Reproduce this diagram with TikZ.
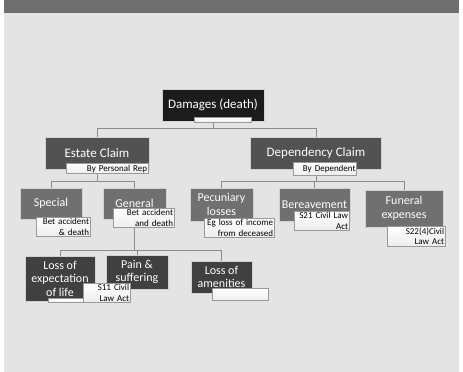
\documentclass[tikz,border=0pt]{standalone}
\usepackage{fontspec}
\setmainfont{Carlito}
\usetikzlibrary{positioning, backgrounds}
\definecolor{paper}{RGB}{228,228,228}
\definecolor{banner}{RGB}{111,111,111}
\definecolor{ink}{RGB}{28,28,28}
\definecolor{slate}{RGB}{82,82,82}
\definecolor{ash}{RGB}{112,112,112}
\definecolor{coal}{RGB}{64,64,64}
\definecolor{wire}{RGB}{140,140,140}
\def\rim{white!82!black}
\def\bigtxt{\fontsize{13}{15}\selectfont}
\def\midtxt{\fontsize{12}{13.5}\selectfont}
\tikzstyle{box} = [rectangle, draw=\rim, line width=0.8pt, text=white, align=center, inner sep=1pt]
\tikzstyle{rootbox} = [box, fill=ink, font=\bigtxt]
\tikzstyle{claimbox} = [box, fill=slate, font=\bigtxt]
\tikzstyle{headbox} = [box, fill=ash, font=\midtxt]
\tikzstyle{leafbox} = [box, fill=coal, font=\midtxt]
\tikzstyle{tagbox} = [rectangle, draw=black!40, line width=0.6pt, top color=white, bottom color=black!7, text=black, align=right, inner sep=1pt, font=\fontsize{9}{10.5}\selectfont]
\tikzstyle{blank} = [tagbox, inner sep=0pt]
\tikzstyle{link} = [draw=wire, line width=1pt]

\begin{document}
\begin{tikzpicture}[x=1pt, y=-1pt]

  \useasboundingbox (0,0) rectangle (463,372);

  % top of the tree
  \node (dmg) [rootbox, minimum width=102pt, minimum height=32pt] at (213,105) {Damages (death)};
  \node (dmgtag) [blank, minimum width=57pt, minimum height=5pt, below left=-4pt and 13pt of dmg.south east] {};

  % the two claims
  \node (estate) [claimbox, minimum width=104pt, minimum height=32pt] at (97,153) {Estate Claim};
  \node (estatetag) [tagbox, text width=80pt, minimum height=10pt, below left=-6pt and 1pt of estate.south east] {By Personal Rep};

  \node (dep) [claimbox, minimum width=131pt, minimum height=32pt] at (316,153.5) {Dependency Claim};
  \node (deptag) [tagbox, text width=61pt, minimum height=13pt, below left=-8pt and 25pt of dep.south east] {By Dependent};

  % estate side
  \node (special) [headbox, minimum width=62pt, minimum height=31pt] at (51,203.5) {Special};
  \node (specialtag) [tagbox, text width=52pt, below left=-2pt and -8pt of special.south east] {Bet accident\\\& death};

  \node (general) [headbox, minimum width=63pt, minimum height=31pt] at (134.5,203.5) {General};
  \node (generaltag) [tagbox, text width=59pt, below left=-11pt and -8pt of general.south east] {Bet accident\\and death};

  \node (lossexp) [leafbox, minimum width=70pt, minimum height=45pt] at (60,278.5) {Loss of\\expectation\\of life};
  \node (lossexptag) [blank, minimum width=37pt, minimum height=4pt, below left=-3pt and 10pt of lossexp.south east] {};

  \node (pain) [leafbox, minimum width=62pt, minimum height=34pt] at (137,272) {Pain \&\\suffering};
  \node (paintag) [tagbox, text width=45pt, below left=-6pt and 38pt of pain.south east] {S11 Civil\\Law Act};

  \node (amen) [leafbox, minimum width=61pt, minimum height=32pt] at (221.5,277) {Loss of\\amenities};
  \node (amentag) [blank, minimum width=56pt, minimum height=12pt, below left=-5pt and -16pt of amen.south east] {};

  % dependency side
  \node (pecun) [headbox, minimum width=63pt, minimum height=33pt] at (221.5,204.5) {Pecuniary\\losses};
  \node (pecuntag) [tagbox, text width=68pt, below left=-3pt and -21pt of pecun.south east] {Eg loss of income\\from deceased};

  \node (bereav) [headbox, minimum width=71pt, minimum height=33pt] at (314.5,204.5) {Bereavement};
  \node (bereavtag) [tagbox, text width=53pt, below left=-10pt and 1pt of bereav.south east] {S21 Civil Law\\Act};

  \node (funeral) [headbox, minimum width=78pt, minimum height=37pt] at (404,208.5) {Funeral\\expenses};
  \node (funeraltag) [tagbox, text width=56pt, below left=-1pt and -2pt of funeral.south east] {S22(4)Civil\\Law Act};

  \begin{pgfonlayer}{background}
    \fill[white] (0,0) rectangle (463,372);
    \fill[paper] (4,0) rectangle (459,372);
    \fill[banner] (4,0) rectangle (459,13);

    \foreach \kid in {estate,dep}
      \draw[link] (dmg.south) -- ++(0,7) -| (\kid.north);
    \foreach \kid in {special,general}
      \draw[link] (estate.south) -- ++(0,12) -| (\kid.north);
    \foreach \kid in {lossexp,pain,amen}
      \draw[link] (general.south) -- ++(0,31) -| (\kid.north);
    \foreach \kid in {pecun,bereav,funeral}
      \draw[link] (dep.south) -- ++(0,12) -| (\kid.north);
  \end{pgfonlayer}

\end{tikzpicture}
\end{document}
